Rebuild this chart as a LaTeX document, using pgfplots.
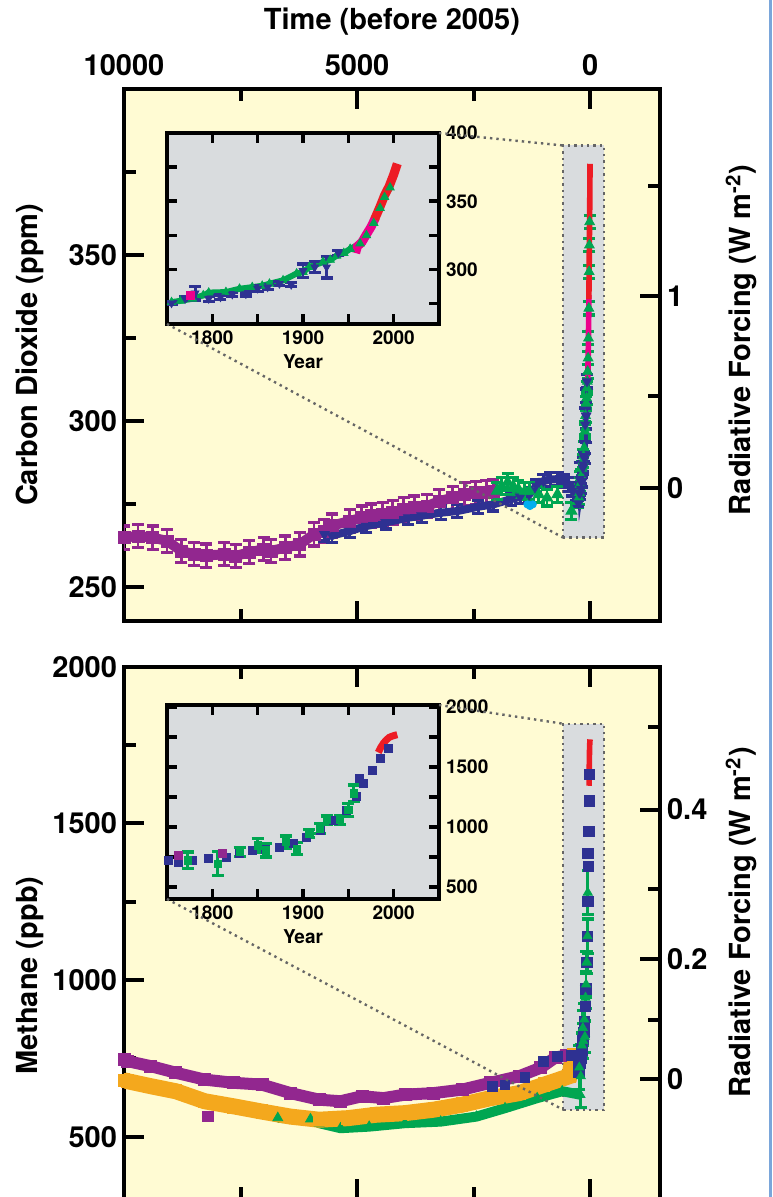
\documentclass[border=0pt]{standalone}
\usepackage{fontspec}
\setmainfont{TeX Gyre Heros}
\usepackage{pgfplots}
\usepackage{pgfplotstable}
\pgfplotsset{compat=1.18}

\definecolor{bgy}{HTML}{FFFBD3}
\definecolor{grayb}{HTML}{D9DCDE}
\definecolor{cpurple}{HTML}{92278F}
\definecolor{cblue}{HTML}{2E3192}
\definecolor{cgreen}{HTML}{00A651}
\definecolor{cred}{HTML}{ED1C24}
\definecolor{cpink}{HTML}{EC008C}
\definecolor{corange}{HTML}{F4A81D}
\definecolor{ccyan}{HTML}{00AEEF}
\definecolor{stripblue}{HTML}{7AA6DA}

\newcommand\bigf{\fontsize{14.5}{17}\selectfont\bfseries}
\newcommand\smallf{\fontsize{9.5}{11}\selectfont\bfseries}

% ---- CO2, years before 2005 ----
\pgfplotstableread{
yb v
10000 265
9700 265.5
9380 265
9077 264
8770 261
8500 260
8230 259.6
7846 260
7600 259.5
7308 260.6
7000 261.5
6846 261
6538 262
6230 263
5923 266
5700 267
5538 268.6
5154 270
4900 271
4692 271.6
4450 272
4231 272.6
4000 273.5
3769 274
3500 274.5
3231 276
2950 277
2692 278
2450 278.5
2231 278.6
2077 279
}\coPurple

\pgfplotstableread{
yb v
5700 266
5538 265.6
5154 267
4800 268.5
4385 269.6
3900 271
3615 271.6
3200 272.5
2846 273
2400 274.3
2077 275
1692 276.6
1500 277.3
1308 278
1150 280.5
1000 282
850 282.5
692 282.6
560 282
462 281
380 279.5
308 278
260 278.5
}\coBlueA

\pgfplotstableread{
yb v
2000 279
1900 280.5
1769 281.7
1650 280.5
1538 279.6
1400 279
1308 279
1100 278
923 277
700 278
400 273
}\coGreenA

\pgfplotstableread{
yb v
1346 275
1290 274.5
1230 275
}\coCyan

% ---- CO2, calendar years (inset) ----
\pgfplotstableread{
yr v
1755 276
1765 277
1778 278.5
1790 281
1796 283
1815 283.4
1830 285.8
1844 287
1855 288
1863 289.5
1878 292
1893 297
1900 298
1907 301.7
1922 305.4
1930 307
1937 310
1945 312
1952 315
1963 319
1970 325
1978 334
1985 345
1990 353
1996 360
}\coGreen

\pgfplotstableread{
yr v e
1755 275.3 1
1770 278.5 1.5
1781 282.6 5
1796 278.5 2
1809 279.7 1.5
1822 281.7 1.5
1837 282 1.5
1850 286 2
1861 287 2
1874 289.5 1.5
1887 288.8 1.5
1900 299 5
1913 301.7 4
1926 301.7 8
1939 312 2
}\coBlue

\pgfplotstableread{
yr v
1958 312
1960 316.9
1965 320
1970 325.7
1975 331.1
1980 338
}\coPink

\pgfplotstableread{
yr v
1979 336.8
1985 346
1990 354.4
1995 360.9
2000 369.5
2004 377.5
}\coRed

% ---- CH4, years before 2005 ----
\pgfplotstableread{
yb v
10000 745
9923 741
9425 725
8888 704
8268 682
7655 672
7041 666
6427 639
5813 618
5354 613
4893 629
4433 623
3973 634
3359 639
2746 650
2132 672
1519 693
1058 720
752 752
500 760
}\chPurple

\pgfplotstableread{
yb v
10000 680
9923 677
9425 661
8888 645
8268 613
7655 597
7041 580
6427 564
5813 554
5200 559
4587 570
3973 575
3359 586
2746 602
2132 623
1519 639
982 666
445 693
365 760
}\chOrange

\pgfplotstableread{
yb v
6700 560
6000 556
5813 543
5354 527
4740 532
3973 543
3206 548
2439 564
1825 591
1135 623
598 645
215 634
}\chGreenA

\pgfplotstableread{
yb v
2100 660
1830 665
1400 690
1000 740
700 757
400 760
260 740
}\chBlueA

% ---- CH4, calendar years (inset) ----
\pgfplotstableread{
yr v
1752 721
1763 707
1778 721
1796 735
1815 749
1830 777
1844 805
1859 810
1874 833
1889 866
1904 916
1919 972
1933 1056
1948 1140
1959 1251
1962 1405
1967 1363
1976 1474
1985 1572
1994 1656
}\chBlue

\pgfplotstableread{
yr v e
1773 721 70
1806 693 100
1830 791 40
1850 847 55
1859 805 55
1881 874 50
1893 819 50
1907 944 35
1919 986 40
1926 1056 35
1941 1056 35
1950 1140 55
1956 1279 70
}\chGreen

\pgfplotstableread{
yr v
1763 763
1811 782
}\chMag

\pgfplotstableread{
yr v
1983 1620
1986 1665
1989 1700
1992 1725
1995 1745
1998 1755
2001 1762
2004 1768
}\chRed

\pgfplotsset{
  mainax/.style={
    scale only axis, width=268pt,
    x dir=reverse, xmin=-1500, xmax=10000,
    scaled x ticks=false, scaled y ticks=false,
    axis line style={line width=2.2pt},
    tick style={line width=2pt, black},
    major tick length=10pt, minor tick length=6pt,
    tick align=inside,
    xtick={0,5000,10000}, minor xtick={2500,7500},
    xtick pos=both, ytick pos=left,
    axis background/.style={fill=bgy},
    /pgf/number format/1000 sep={},
    /pgf/number format/assume math mode=true,
    tick label style={font=\bigf},
  },
  rightax/.style={
    scale only axis, width=268pt,
    x dir=reverse, xmin=-1500, xmax=10000,
    axis x line=none, axis y line*=right,
    axis line style={line width=2.2pt},
    tick style={line width=2pt, black},
    major tick length=10pt, minor tick length=6pt,
    tick align=inside,
    tick label style={font=\bigf},
  },
  insetax/.style={
    scale only axis, width=136pt,
    xmin=1750, xmax=2050,
    axis line style={line width=2.2pt},
    tick style={line width=1.8pt, black},
    major tick length=5pt,
    tick align=inside,
    xtick pos=both, ytick pos=both,
    yticklabel pos=right,
    xtick={1800,1850,1900,1950,2000},
    xticklabels={1800,,1900,,2000},
    axis background/.style={fill=grayb},
    tick label style={font=\smallf},
    xlabel={Year},
    every axis x label/.style={at={(axis description cs:0.5,0)}, anchor=north, yshift=-12pt, font=\smallf},
  },
  ebar/.style={error bars/y dir=both, error bars/error bar style={line width=1.4pt},
    error bars/error mark options={rotate=90, mark size=3pt, line width=1.6pt}},
}

\begin{document}
\begin{tikzpicture}
\useasboundingbox (0pt,0pt) rectangle (386pt,-598.5pt);

% ================= CO2 panel =================
\begin{axis}[mainax, at={(62pt,-44.5pt)}, anchor=north west, height=265.85pt,
  ymin=240, ymax=400, ytick={250,300,350}, minor ytick={275,325,375},
  xticklabel pos=upper,
  xticklabel style={yshift=3pt},
  xlabel={Time (before 2005)},
  ylabel={Carbon Dioxide (ppm)},
  every axis x label/.style={at={(axis description cs:0.5,1.126)}, anchor=center, font=\bigf},
  every axis y label/.style={at={(axis description cs:-0.175,0.5)}, rotate=90, anchor=center, font=\bigf},
]
\fill[grayb] (axis cs:579,265) rectangle (axis cs:-300,383);
\draw[dotted, line width=1.2pt, black!60] (axis cs:579,265) rectangle (axis cs:-300,383);
\coordinate (Ttl) at (axis cs:579,383);
\coordinate (Tbl) at (axis cs:579,265);
\addplot[cpurple, line width=5pt] table[x=yb, y=v] {\coPurple};
\addplot[cpurple, only marks, mark=square*, mark size=3pt, ebar, error bars/y fixed=3.5] table[x=yb, y=v] {\coPurple};
\addplot[cblue, line width=4pt] table[x=yb, y=v] {\coBlueA};
\addplot[cblue, only marks, mark=triangle*, mark size=2.8pt, mark options={rotate=180}, ebar, error bars/y fixed=2] table[x=yb, y=v] {\coBlueA};
\addplot[cgreen, only marks, mark=triangle*, mark size=3.2pt, ebar, error bars/y fixed=2.5] table[x=yb, y=v] {\coGreenA};
\addplot[ccyan, only marks, mark=*, mark size=1.8pt] table[x=yb, y=v] {\coCyan};
\addplot[cblue, line width=3pt] table[x expr=2005-\thisrow{yr}, y=v] {\coBlue};
\addplot[cgreen, only marks, mark=triangle*, mark size=2.8pt, ebar, error bars/y fixed=2] table[x expr=2005-\thisrow{yr}, y=v] {\coGreen};
\addplot[cblue, only marks, mark=triangle*, mark size=2.6pt, mark options={rotate=180}, ebar, error bars/y explicit] table[x expr=2005-\thisrow{yr}, y=v, y error=e] {\coBlue};
\addplot[cpink, line width=2.8pt] table[x expr=2005-\thisrow{yr}, y=v] {\coPink};
\addplot[cred, line width=2.8pt] table[x expr=2005-\thisrow{yr}, y=v] {\coRed};
\end{axis}

\begin{axis}[rightax, at={(62pt,-44.5pt)}, anchor=north west, height=265.85pt,
  ymin=240, ymax=400,
  ytick={280,337.6}, yticklabels={0,1}, minor ytick={307.7,370.7},
  ylabel={Radiative Forcing (W m\textsuperscript{-2})},
  every axis y label/.style={at={(axis description cs:1.152,0.528)}, rotate=90, anchor=center, font=\bigf},
]
\end{axis}

\begin{axis}[insetax, at={(83.5pt,-66.5pt)}, anchor=north west, height=95.5pt,
  ymin=260, ymax=400,
  ytick={275,300,325,350,375,400}, yticklabels={,300,,350,,400},
]
\coordinate (Itr) at (rel axis cs:1,1);
\coordinate (Ibl) at (rel axis cs:0,0);
\addplot[cgreen, line width=3pt] table[x=yr, y=v] {\coGreen};
\addplot[cgreen, only marks, mark=triangle*, mark size=2.4pt] table[x=yr, y=v] {\coGreen};
\addplot[cblue, only marks, mark=triangle*, mark size=2.2pt, mark options={rotate=180}, ebar, error bars/y explicit] table[x=yr, y=v, y error=e] {\coBlue};
\addplot[cpink, only marks, mark=square*, mark size=2pt] coordinates {(1776,281)};
\addplot[cpink, line width=4.5pt] table[x=yr, y=v] {\coPink};
\addplot[cred, line width=4.5pt] table[x=yr, y=v] {\coRed};
\end{axis}
\draw[dotted, line width=1.2pt, black!60] (Itr) -- (Ttl);
\draw[dotted, line width=1.2pt, black!60] (Ibl) -- (Tbl);

% ================= CH4 panel =================
\begin{axis}[mainax, at={(62pt,-333.35pt)}, anchor=north west, height=266.3pt,
  ymin=300, ymax=2000, ytick={500,1000,1500,2000}, minor ytick={750,1250,1750},
  xticklabels={},
  ylabel={Methane (ppb)},
  every axis y label/.style={at={(axis description cs:-0.175,0.42)}, rotate=90, anchor=center, font=\bigf},
]
\fill[grayb] (axis cs:579,586) rectangle (axis cs:-300,1818);
\draw[dotted, line width=1.2pt, black!60] (axis cs:579,586) rectangle (axis cs:-300,1818);
\coordinate (Btl) at (axis cs:579,1818);
\coordinate (Bbl) at (axis cs:579,586);
\addplot[cpurple, line width=6pt] table[x=yb, y=v] {\chPurple};
\addplot[cpurple, only marks, mark=square*, mark size=3pt, ebar, error bars/y fixed=15] table[x=yb, y=v] {\chPurple};
\addplot[cpurple, only marks, mark=square*, mark size=2.6pt] coordinates {(8200,565)};
\addplot[cgreen, line width=5pt] table[x=yb, y=v] {\chGreenA};
\addplot[cgreen, only marks, mark=triangle*, mark size=2.8pt] table[x=yb, y=v] {\chGreenA};
\addplot[corange, line width=8pt] table[x=yb, y=v] {\chOrange};
\addplot[corange, only marks, mark=square*, mark size=3pt, ebar, error bars/y fixed=18] table[x=yb, y=v] {\chOrange};
\addplot[cblue, only marks, mark=square*, mark size=2.4pt] table[x=yb, y=v] {\chBlueA};
\addplot[cblue, only marks, mark=square*, mark size=2.6pt] table[x expr=2005-\thisrow{yr}, y=v] {\chBlue};
\addplot[cgreen, only marks, mark=triangle*, mark size=2.6pt, ebar, error bars/y explicit] table[x expr=2005-\thisrow{yr}, y=v, y error=e] {\chGreen};
\addplot[cred, line width=2.8pt] table[x expr=2005-\thisrow{yr}, y=v] {\chRed};
\end{axis}

\begin{axis}[rightax, at={(62pt,-333.35pt)}, anchor=north west, height=266.3pt,
  ymin=300, ymax=2000,
  ytick={685,1068,1544}, yticklabels={0,0.2,0.4}, minor ytick={873,1292,1808},
  ylabel={Radiative Forcing (W m\textsuperscript{-2})},
  every axis y label/.style={at={(axis description cs:1.152,0.52)}, rotate=90, anchor=center, font=\bigf},
]
\end{axis}

\begin{axis}[insetax, at={(83.5pt,-352.5pt)}, anchor=north west, height=97pt,
  ymin=400, ymax=2015,
  ytick={500,750,1000,1250,1500,1750,2000}, yticklabels={500,,1000,,1500,,2000},
]
\coordinate (Jtr) at (rel axis cs:1,1);
\coordinate (Jbl) at (rel axis cs:0,0);
\addplot[cblue, only marks, mark=square*, mark size=2pt] table[x=yr, y=v] {\chBlue};
\addplot[cpurple, only marks, mark=square*, mark size=2pt] table[x=yr, y=v] {\chMag};
\addplot[cgreen, only marks, mark=square*, mark size=1.8pt, ebar, error bars/y explicit] table[x=yr, y=v, y error=e] {\chGreen};
\addplot[cred, line width=3.5pt] table[x=yr, y=v] {\chRed};
\end{axis}
\draw[dotted, line width=1.2pt, black!60] (Jtr) -- (Btl);
\draw[dotted, line width=1.2pt, black!60] (Jbl) -- (Bbl);

\fill[stripblue] (384.6pt,0pt) rectangle (386pt,-598.5pt);
\end{tikzpicture}
\end{document}
